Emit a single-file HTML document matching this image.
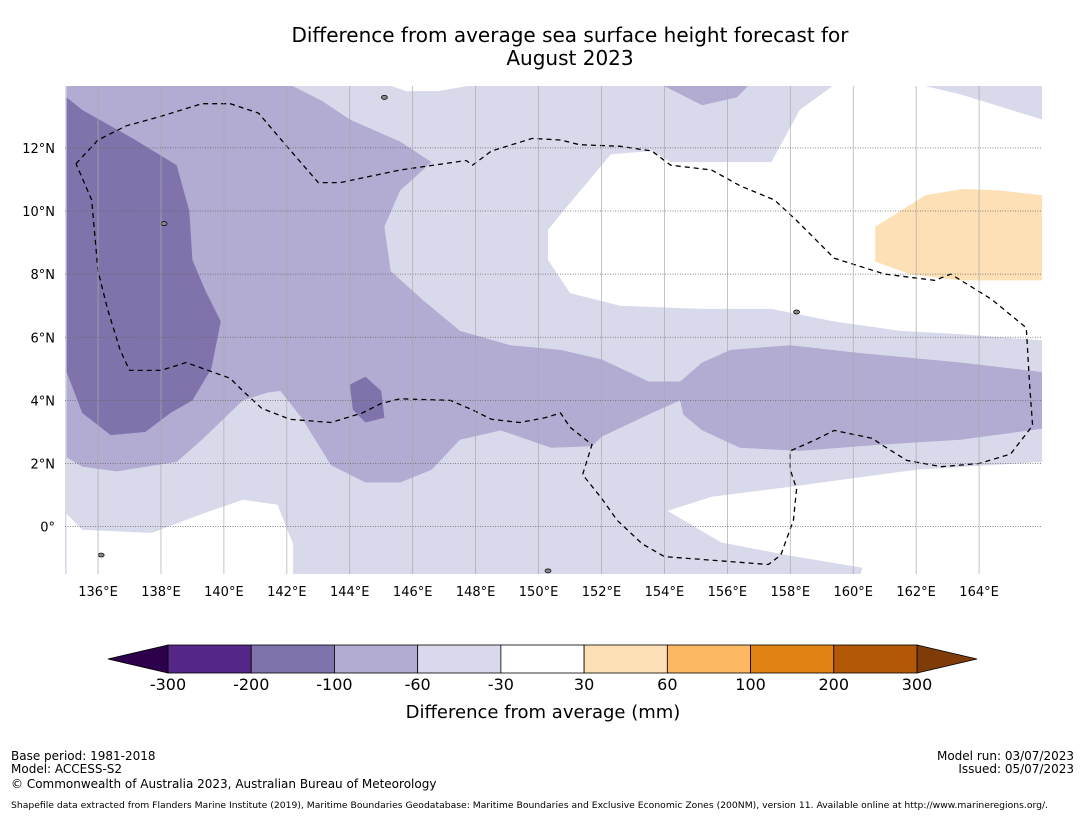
<!DOCTYPE html>
<html><head><meta charset="utf-8"><style>
body{margin:0;background:#fff;font-family:"DejaVu Sans","Liberation Sans",sans-serif;}
svg{display:block}
</style></head><body>
<svg width="1085" height="816" viewBox="0 0 1085 816" id="chart" font-family="DejaVu Sans, Liberation Sans, sans-serif">
<text x="570" y="42" text-anchor="middle" font-size="20">Difference from average sea surface height forecast for</text>
<text x="570" y="65" text-anchor="middle" font-size="20">August 2023</text>
<defs><clipPath id="mapclip"><rect x="65" y="86" width="977" height="488"/></clipPath></defs>
<g id="map" clip-path="url(#mapclip)"></g>
<g id="grid"></g>
<g id="axes"></g>
<g id="cbar"></g>
<text x="543" y="718" text-anchor="middle" font-size="18">Difference from average (mm)</text>
<g font-size="12">
<text x="11" y="760">Base period: 1981-2018</text>
<text x="11" y="773">Model: ACCESS-S2</text>
<text x="11" y="788">© Commonwealth of Australia 2023, Australian Bureau of Meteorology</text>
<text x="1074" y="760" text-anchor="end">Model run: 03/07/2023</text>
<text x="1074" y="773" text-anchor="end">Issued: 05/07/2023</text>
<text x="11" y="808" font-size="9" textLength="1037" lengthAdjust="spacingAndGlyphs">Shapefile data extracted from Flanders Marine Institute (2019), Maritime Boundaries Geodatabase: Maritime Boundaries and Exclusive Economic Zones (200NM), version 11. Available online at http://www.marineregions.org/.</text>
</g>
</svg>
<script>
const lonTicks=[136,138,140,142,144,146,148,150,152,154,156,158,160,162,164];
const latTicks=[0,2,4,6,8,10,12];
const cbLevels=[-300,-200,-100,-60,-30,30,60,100,200,300];
const cbColors=["#542788","#8073ac","#b2abd2","#d8daeb","#ffffff","#fee0b6","#fdb863","#e08214","#b35806"];
const cbUnder="#2d004b", cbOver="#7f3b08";
const whiteNE=[[159.4,14],[158.3,13.2],[157.4,11.55],[154.2,11.55],[153.6,11.9],[152.3,11.8],[150.7,9.9],[150.3,9.4],[150.3,8.45],[151,7.4],[152.6,7],[155.2,6.9],[157.4,6.9],[159.4,6.5],[161.5,6.2],[163.4,6.1],[166,5.9],[166,12.9],[163.4,13.7],[162.1,14]];
const whiteSW=[[135,0.4],[135.5,-0.1],[137.7,-0.2],[139.3,0.4],[140.6,0.85],[141.7,0.7],[142.2,-0.55],[142.2,-1.6],[135,-1.6]];
const whiteSE=[[154.1,0.5],[155.5,0.95],[157.9,1.25],[160.1,1.55],[162,1.8],[166,2.05],[166,-1.6],[160.2,-1.6],[160.3,-1.3],[157.9,-0.9],[155.8,-0.5]];
const whiteTop=[[145.2,14],[148,14],[146.8,13.8],[145.8,13.8]];
const medMain=[[135,14],[142.1,14],[143.1,13.5],[144,12.9],[145.6,12.2],[146.6,11.55],[145.6,10.65],[145.1,9.5],[145.3,8.1],[146.3,7.2],[147.5,6.2],[149.1,5.75],[150.7,5.6],[152,5.3],[153.5,4.6],[154.5,4.6],[155.2,5.2],[156.1,5.6],[158,5.75],[160.2,5.5],[163.4,5.2],[166,4.9],[166,3.1],[163.4,2.75],[160.9,2.6],[158.3,2.4],[157.3,2.45],[156.4,2.5],[155.2,3.05],[154.6,3.55],[154.5,4],[153.6,3.6],[152,2.85],[151.7,2.55],[150.4,2.5],[148.8,3.05],[147.5,2.75],[146.6,1.8],[145.6,1.4],[144.5,1.4],[143.4,1.95],[142.5,3.4],[141.8,4.3],[141.4,4.25],[140.6,4],[139.3,2.75],[138.5,2.05],[136.6,1.75],[135.5,1.9],[135,2.2]];
const medTop=[[153.9,14],[156.7,14],[156.3,13.6],[155.2,13.35]];
const darkMain=[[135,13.6],[135.5,13.2],[137.1,12.3],[138.5,11.45],[138.9,10],[139,8.45],[139.4,7.5],[139.9,6.5],[139.6,5],[139,4],[138.3,3.6],[137.5,3],[136.4,2.9],[135.5,3.6],[135,4.9]];
const darkSmall=[[144,4.5],[144.5,4.75],[145,4.3],[145.1,3.45],[144.5,3.3],[144.1,3.7]];
const orange=[[160.7,9.5],[162.3,10.5],[163.5,10.7],[164.7,10.65],[166,10.5],[166,7.8],[163.4,7.8],[161.8,8],[160.7,8.4]];
const eez=[[135.3,11.5],[136,12.25],[136.9,12.7],[138,13],[139.3,13.4],[140.2,13.4],[141.1,13.1],[142,12.05],[143,10.9],[143.7,10.9],[145.6,11.3],[147.7,11.6],[147.9,11.45],[148.5,11.9],[149.8,12.3],[150.7,12.25],[151.3,12.1],[152.6,12.05],[153.6,11.9],[154.2,11.45],[155.5,11.3],[156.4,10.8],[157.5,10.35],[158.2,9.7],[159.4,8.5],[161,8],[162.6,7.8],[163.1,8],[164.4,7.2],[165.5,6.3],[165.6,4.6],[165.7,3.2],[165,2.3],[164,2],[162.8,1.9],[161.7,2.1],[160.9,2.6],[160.6,2.8],[159.4,3.05],[158.8,2.75],[158,2.4],[158,1.8],[158.2,1.2],[158.1,0.2],[157.7,-0.9],[157.3,-1.2],[154,-0.95],[153.3,-0.55],[152.5,0.2],[152,0.9],[151.4,1.65],[151.7,2.6],[151,3.15],[150.7,3.6],[150.2,3.45],[149.4,3.3],[148.5,3.4],[147.9,3.7],[147.2,4],[145.6,4.05],[145,3.9],[144.4,3.6],[143.4,3.3],[142.1,3.4],[141.2,3.75],[140.6,4.3],[140.2,4.7],[138.8,5.2],[138,4.95],[137,4.95],[136.7,5.6],[136.3,6.9],[136,8.1],[135.8,10.35],[135.3,11.5]];
const islands=[[136.1,-0.9],[150.3,-1.4],[158.2,6.8],[145.1,13.6],[138.1,9.6]];

const X0=65,X1=1042,Y0=86,Y1=574;
const lonMin=134.95,lonMax=166,latMin=-1.5,latMax=13.96;
const sx=l=>X0+(l-lonMin)/(lonMax-lonMin)*(X1-X0);
const sy=l=>Y1-(l-latMin)/(latMax-latMin)*(Y1-Y0);
const NS="http://www.w3.org/2000/svg";
function mk(tag,attrs,parent){const e=document.createElementNS(NS,tag);for(const k in attrs)e.setAttribute(k,attrs[k]);parent.appendChild(e);return e;}
const pts=a=>a.map(p=>sx(p[0]).toFixed(1)+","+sy(p[1]).toFixed(1)).join(" ");
const map=document.getElementById('map');
let bg=mk('rect',{x:X0,y:Y0,width:X1-X0,height:Y1-Y0,fill:cbColors[3]},map);


const layers=[[whiteNE,cbColors[4],'white-region-ne'],[whiteSW,cbColors[4],'white-region-sw'],[whiteSE,cbColors[4],'white-region-se'],[whiteTop,cbColors[4],'white-region-top'],[medMain,cbColors[2],'band-minus100-main'],[medTop,cbColors[2],'band-minus100-top'],[darkMain,cbColors[1],'band-minus200-main'],[darkSmall,cbColors[1],'band-minus200-small'],[orange,cbColors[5],'band-plus30-60']];
layers.forEach(L=>{const p=mk('polygon',{points:pts(L[0]),fill:L[1]},map);

});
islands.forEach(c=>{const e=mk('ellipse',{cx:sx(c[0]),cy:sy(c[1]),rx:3,ry:2,fill:'#888',stroke:'#000','stroke-width':0.7},map);

});
const ez=mk('polyline',{points:pts(eez),fill:'none',stroke:'#000','stroke-width':1.3,'stroke-dasharray':'5,4'},map);


const grid=document.getElementById('grid'),axes=document.getElementById('axes');
lonTicks.forEach(l=>{const g=mk('line',{x1:sx(l),x2:sx(l),y1:Y0,y2:Y1,stroke:'#aaa','stroke-width':0.7},grid);


const t=mk('text',{x:sx(l),y:596,'text-anchor':'middle','font-size':13},axes);t.textContent=l+'°E';

});
latTicks.forEach(l=>{const g=mk('line',{x1:X0,x2:X1,y1:sy(l),y2:sy(l),stroke:'#666','stroke-width':0.8,'stroke-dasharray':'1,1.5'},grid);


const t=mk('text',{x:55,y:sy(l)+5,'text-anchor':'end','font-size':13},axes);t.textContent=l===0?'0°':l+'°N';

});
const cb=document.getElementById('cbar');
const cx0=168,cx1=917,cy0=645,cy1=673,tw=60;
const bw=(cx1-cx0)/cbColors.length;
const tl=mk('polygon',{points:`${cx0},${cy0} ${cx0-tw},${(cy0+cy1)/2} ${cx0},${cy1}`,fill:cbUnder,stroke:'#000','stroke-width':0.8},cb);


const tr=mk('polygon',{points:`${cx1},${cy0} ${cx1+tw},${(cy0+cy1)/2} ${cx1},${cy1}`,fill:cbOver,stroke:'#000','stroke-width':0.8},cb);


cbColors.forEach((c,i)=>{const r=mk('rect',{x:cx0+i*bw,y:cy0,width:bw,height:cy1-cy0,fill:c,stroke:'#000','stroke-width':0.8},cb);

});
cbLevels.forEach((v,i)=>{const t=mk('text',{x:cx0+i*bw,y:690,'text-anchor':'middle','font-size':16},cb);t.textContent=v;

});
</script>
</body></html>
